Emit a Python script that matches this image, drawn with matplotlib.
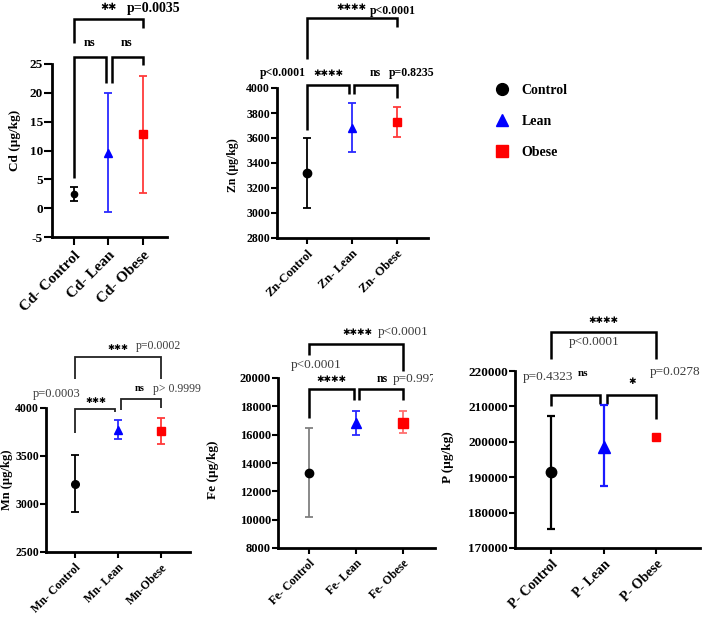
import matplotlib
matplotlib.use("Agg")
import matplotlib.pyplot as plt
from matplotlib.lines import Line2D
from matplotlib.patches import Rectangle

plt.rcParams['font.family'] = ['Liberation Serif', 'DejaVu Sans']
plt.rcParams['font.weight'] = 'bold'
plt.rcParams['axes.unicode_minus'] = False

# data (mean, lower and upper end of the error bar)
groups = ['Control', 'Lean', 'Obese']

cd_labels = ['Cd- Control', 'Cd- Lean', 'Cd- Obese']
cd_mean = [2.4, 9.6, 12.9]
cd_low = [1.3, -0.6, 2.6]
cd_high = [3.6, 20.0, 23.0]

zn_labels = ['Zn-Control', 'Zn- Lean', 'Zn- Obese']
zn_mean = [3320, 3680, 3730]
zn_low = [3040, 3490, 3610]
zn_high = [3600, 3880, 3850]

mn_labels = ['Mn- Control', 'Mn- Lean', 'Mn-Obese']
mn_mean = [3210, 3770, 3765]
mn_low = [2920, 3680, 3630]
mn_high = [3510, 3880, 3900]

fe_labels = ['Fe- Control', 'Fe- Lean', 'Fe- Obese']
fe_mean = [13300, 16800, 16850]
fe_low = [10200, 16000, 16100]
fe_high = [16450, 17650, 17650]

p_labels = ['P- Control', 'P- Lean', 'P- Obese']
p_mean = [191400, 198500, 201300]
p_low = [175500, 187400, 201300]
p_high = [207400, 210300, 201300]

markers = ['o', '^', 's']
colors = ['black', '#0000ff', '#ff0000']

W, H = 702, 617
fig = plt.figure(figsize=(W / 100, H / 100), dpi=100)


def add_ax(left, top, right, bottom):
    return fig.add_axes([left / W, 1 - bottom / H, (right - left) / W, (bottom - top) / H])


def panel(ax, labels, mean, low, high, xlim, ylim, yticks, ecolors, msizes,
          tick_fs, xlab_fs, elw=1.3, tlen=4):
    for i in range(3):
        ax.errorbar(i, mean[i], yerr=[[mean[i] - low[i]], [high[i] - mean[i]]],
                    fmt=markers[i], color=colors[i], ecolor=ecolors[i],
                    ms=msizes[i], elinewidth=elw, capsize=3, capthick=elw,
                    mec=colors[i], clip_on=False, zorder=3)
    ax.set_xlim(*xlim)
    ax.set_ylim(*ylim)
    ax.set_yticks(yticks)
    ax.set_xticks(range(3))
    ax.set_xticklabels(labels, rotation=45, ha='right', rotation_mode='anchor',
                       fontsize=xlab_fs, fontweight='bold')
    ax.tick_params(axis='y', labelsize=tick_fs, width=1.5, length=tlen, pad=1)
    ax.tick_params(axis='x', width=1.5, length=tlen, pad=3)
    for s in ['top', 'right']:
        ax.spines[s].set_visible(False)
    for s in ['left', 'bottom']:
        ax.spines[s].set_linewidth(2)


def bracket(ax, x1, x2, y, y1, y2, lw=1.8, color='black'):
    ax.plot([x1, x1, x2, x2], [y1, y, y, y2], color=color, lw=lw,
            clip_on=False, solid_capstyle='butt', solid_joinstyle='miter')


def note(ax, x, y, s, fs=8, weight='bold', color='black', ha='center', family=None):
    return ax.text(x, y, s, ha=ha, va='center', fontsize=fs, fontweight=weight,
                   color=color, family=family, clip_on=False)


star = ['DejaVu Sans']
pgray = '#3c3c3c'

# Cd
ax = add_ax(52, 64, 167, 237)
panel(ax, cd_labels, cd_mean, cd_low, cd_high, (-0.64, 2.70), (-5, 25),
      range(-5, 30, 5), ['black', '#2a2aff', '#ff3a3a'], [4.5, 5.5, 5.5], 9.5, 11,
      tlen=5.5)
bracket(ax, 0, 0.93, 26.2, 5.3, 21.7)
bracket(ax, 1.10, 2, 26.2, 21.7, 24.8)
bracket(ax, 0, 2, 32.8, 28.6, 31.2)
note(ax, 0.44, 28.6, 'ns', 9)
note(ax, 1.53, 28.6, 'ns', 9)
note(ax, 1.0, 34.9, '\u2731\u2731', 7, family=star)
note(ax, 2.32, 34.7, 'p=0.0035', 10)
fig.text(15 / W, 1 - 140 / H, 'Cd (\u00b5g/kg)', rotation=90, ha='center', va='center',
         fontsize=9.5, fontweight='bold')

# Zn
ax = add_ax(277, 88, 428, 238)
panel(ax, zn_labels, zn_mean, zn_low, zn_high, (-0.67, 2.69), (2800, 4000),
      range(2800, 4001, 200), ['black', '#2a2aff', '#ff3a3a'], [6, 5.5, 6], 8.5, 9)
bracket(ax, 0, 0.93, 4024, 3664, 3952)
bracket(ax, 1.04, 2, 4024, 3952, 3920)
bracket(ax, 0, 2, 4560, 4232, 4488)
note(ax, -0.53, 4120, 'p<0.0001', 8.5)
note(ax, 0.47, 4120, '\u2731\u2731\u2731\u2731', 6.5, family=star)
note(ax, 1.51, 4120, 'ns', 8.5)
note(ax, 2.33, 4120, 'p=0.8235', 8.5)
note(ax, 0.98, 4648, '\u2731\u2731\u2731\u2731', 6.5, family=star)
note(ax, 1.91, 4616, 'p<0.0001', 8.5)
fig.text(233 / W, 1 - 165 / H, 'Zn (\u00b5g/kg)', rotation=90, ha='center', va='center',
         fontsize=8.5, fontweight='bold')

# legend
handles = [Line2D([], [], ls='none', marker=markers[i], color=colors[i], ms=8.5)
           for i in range(3)]
fig.legend(handles, groups, loc='upper left', bbox_to_anchor=(495 / W, 1 - 84 / H),
           frameon=False, fontsize=10, labelspacing=1.3, handlelength=1.0,
           handletextpad=0.9, borderpad=0, borderaxespad=0)

# Mn
ax = add_ax(46, 408, 190, 552)
panel(ax, mn_labels, mn_mean, mn_low, mn_high, (-0.67, 2.67), (2500, 4000),
      range(2500, 4001, 500), ['black', '#2a2aff', '#ff3a3a'], [5.5, 5.5, 6], 8.5, 8.5)
bracket(ax, 0, 0.93, 3990, 3740, 3958, lw=1.3, color='#222222')
bracket(ax, 1.07, 2, 4094, 3979, 4000, lw=1.3, color='#222222')
bracket(ax, 0, 2, 4531, 4302, 4302, lw=1.3, color='#222222')
note(ax, 1.0, 4635, '\u2731\u2731\u2731', 6, family=star)
note(ax, 1.93, 4645, 'p=0.0002', 8.5, weight='normal', color=pgray)
note(ax, -0.42, 4146, 'p=0.0003', 9, weight='normal', color=pgray)
note(ax, 0.49, 4083, '\u2731\u2731\u2731', 6, family=star)
note(ax, 1.51, 4198, 'ns', 7.5)
note(ax, 2.37, 4198, 'p> 0.9999', 8.5, weight='normal', color=pgray)
fig.text(7 / W, 1 - 480 / H, 'Mn (\u00b5g/kg)', rotation=90, ha='center', va='center',
         fontsize=9, fontweight='bold')

# Fe
ax = add_ax(278, 378, 435, 548)
panel(ax, fe_labels, fe_mean, fe_low, fe_high, (-0.66, 2.68), (8000, 20000),
      range(8000, 20001, 2000), ['#808080', '#2a2aff', '#ff7070'], [6, 6.5, 6.5], 9, 8.5)
bracket(ax, 0, 0.96, 19224, 17176, 18447)
bracket(ax, 1.06, 2, 19224, 18447, 18447)
bracket(ax, 0, 2, 22400, 21624, 20494)
note(ax, 1.02, 23247, '\u2731\u2731\u2731\u2731', 6.5, family=star)
note(ax, 2.0, 23247, 'p<0.0001', 9.5, weight='normal', color=pgray)
note(ax, 0.15, 20918, 'p<0.0001', 9.5, weight='normal', color=pgray)
note(ax, 0.47, 19929, '\u2731\u2731\u2731\u2731', 6.5, family=star)
note(ax, 1.55, 19929, 'ns', 8.5)
t = note(ax, 1.79, 19929, 'p=0.9976', 9.5, weight='normal', color=pgray, ha='left')
clip = Rectangle((0, 0), 433 / W, 1, transform=fig.transFigure)
t.set_clip_path(clip)
t.set_clip_on(True)
fig.text(213 / W, 1 - 470 / H, 'Fe (\u00b5g/kg)', rotation=90, ha='center', va='center',
         fontsize=9.5, fontweight='bold')

# P
ax = add_ax(515, 371, 700, 548)
panel(ax, p_labels, p_mean, p_low, p_high, (-0.69, 2.84), (170000, 220000),
      range(170000, 220001, 10000), ['black', '#1a1aff', '#ff0000'], [7.5, 9, 6], 9.5, 10,
      elw=1.6)
bracket(ax, 0, 0.93, 213220, 210113, 210678)
bracket(ax, 1.07, 2, 213220, 210678, 206440)
bracket(ax, 0, 2, 231017, 223390, 223390)
note(ax, 1.0, 234400, '\u2731\u2731\u2731\u2731', 6.5, family=star)
note(ax, 0.82, 228190, 'p<0.0001', 9.5, weight='normal', color=pgray)
note(ax, -0.06, 218300, 'p=0.4323', 9.5, weight='normal', color=pgray)
note(ax, 0.61, 219435, 'ns', 8)
note(ax, 1.54, 217175, '\u2731', 6.5, family=star)
note(ax, 2.36, 219717, 'p=0.0278', 9.5, weight='normal', color=pgray)
fig.text(448 / W, 1 - 457 / H, 'P (\u00b5g/kg)', rotation=90, ha='center', va='center',
         fontsize=9.5, fontweight='bold')

fig.savefig('out.png', dpi=100)
